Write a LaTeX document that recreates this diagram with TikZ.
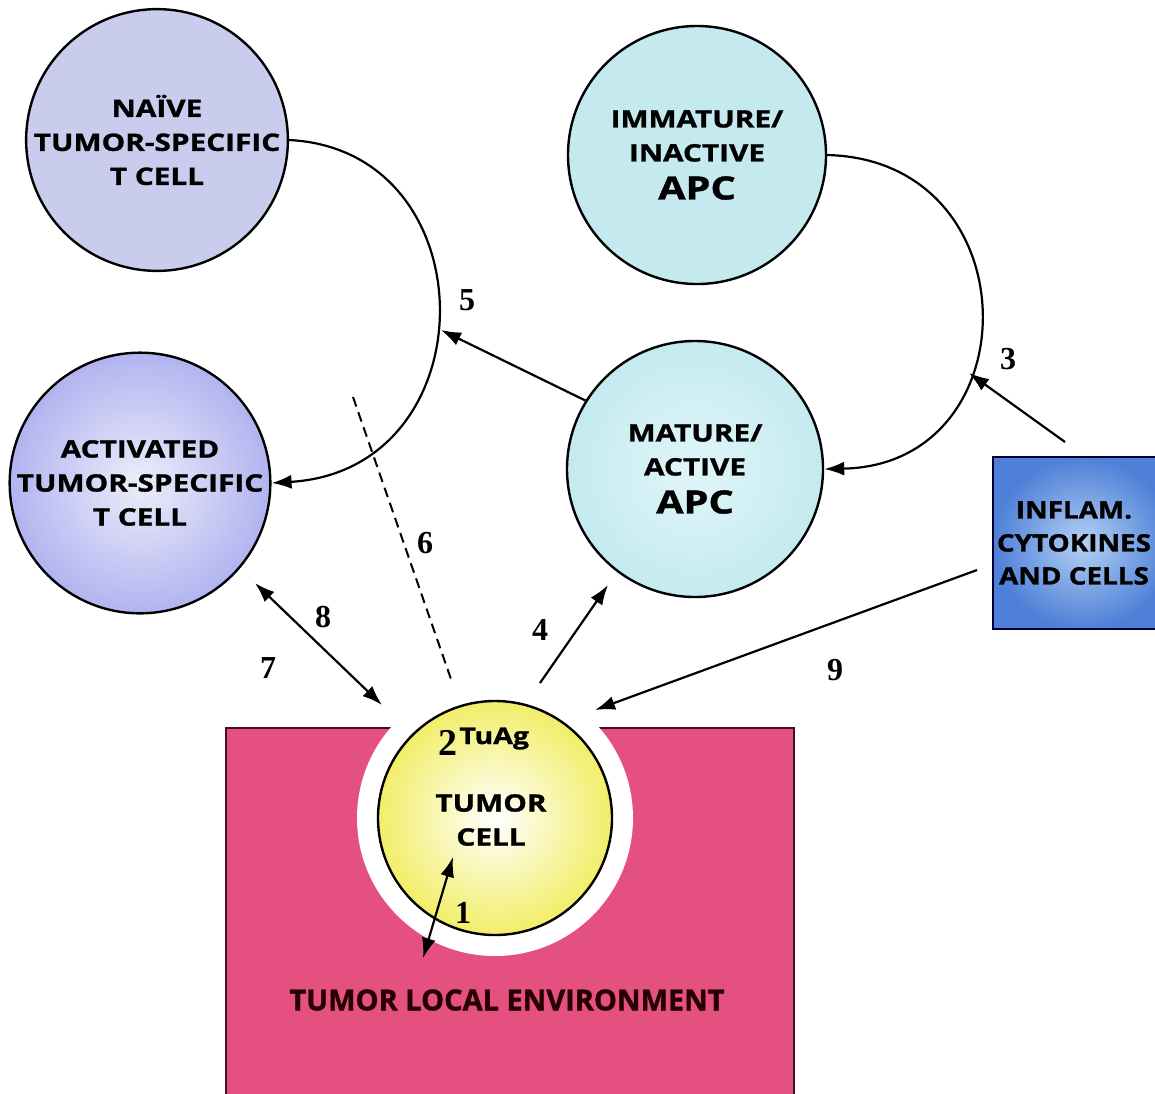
\documentclass[tikz,border=0pt]{standalone}
\usepackage{fontspec}
\newfontfamily\sansf[FakeStretch=1.24,FakeBold=1.2]{Open Sans}
\newfontfamily\sansi[FakeStretch=1.16,FakeBold=1.2]{Open Sans}
\newfontfamily\sansn[FakeBold=1.2]{Open Sans}
\newfontfamily\numf{Liberation Serif}
\usetikzlibrary{arrows.meta,calc}
\definecolor{lav}{RGB}{202,204,238}
\definecolor{lavin}{RGB}{236,237,250}
\definecolor{apc}{RGB}{196,234,240}
\definecolor{apcin}{RGB}{224,246,249}
\definecolor{pinkenv}{RGB}{228,80,128}
\definecolor{pinkedge}{RGB}{70,15,30}
\definecolor{yel}{RGB}{242,238,105}
\definecolor{infblue}{RGB}{78,128,215}
\definecolor{infin}{RGB}{180,208,245}
\tikzset{
  cell/.style={circle,draw=black,line width=1.2pt,inner sep=0pt,align=center,
     font=\sansf\bfseries\fontsize{12}{17}\selectfont},
  tip/.tip={Latex[length=10pt,width=7pt]},
  conn/.style={line width=1.1pt,-tip},
  dconn/.style={line width=1.1pt,tip-tip},
  num/.style={font=\numf\bfseries\fontsize{16}{16}\selectfont,inner sep=0pt}
}
\begin{document}
\begin{tikzpicture}[x=0.5pt,y=-0.5pt]
\useasboundingbox (0,0) rectangle (1155,1093);
\clip (0,0) rectangle (1155,1093);
\fill[white] (0,0) rectangle (1155,1093);
% tumor local environment
\node[draw=pinkedge,fill=pinkenv,line width=1.1pt,minimum width=284pt,minimum height=200pt,inner sep=0pt,anchor=north west] (env) at (225,727) {};
\node[circle,fill=white,minimum size=138pt,inner sep=0pt] (halo) at (495,818) {};
\node[cell,inner color=white,outer color=yel,minimum size=117pt] (tumor) at (495,818) {};
\node[font=\sansf\bfseries\fontsize{12}{17}\selectfont,align=center,inner sep=0pt] (tumtxt) at (491,820) {TUMOR\\CELL};
\node[font=\numf\bfseries\fontsize{19}{19}\selectfont,anchor=base,inner sep=0pt] (two) at (448,755) {2};
\node[font=\sansf\bfseries\fontsize{11.5}{12}\selectfont,anchor=base west,inner sep=0pt] (tuag) at (459,744) {TuAg};
\node[font=\sansn\bfseries\fontsize{14.5}{16}\selectfont,text=black!85!red,inner sep=0pt] (envtxt) at (507,1000) {TUMOR LOCAL ENVIRONMENT};
% cells
\node[cell,fill=lav,minimum size=128pt] (naive) at (157,140) {NAÏVE\\TUMOR-SPECIFIC\\T CELL};
\node[cell,inner color=lavin,outer color=lav!88!blue,minimum size=127pt] (act) at (140,483) {ACTIVATED\\TUMOR-SPECIFIC\\T CELL};
\node[cell,fill=apc,minimum size=129pt] (imm) at (697,155) {IMMATURE/\\INACTIVE\\[2pt]{\fontsize{16}{17}\selectfont APC}};
\node[cell,inner color=apcin,outer color=apc,minimum size=128pt] (mat) at (695,469) {MATURE/\\ACTIVE\\[2pt]{\fontsize{16}{17}\selectfont APC}};
% inflammatory box
\node[draw=black!80!blue,line width=1.2pt,inner color=infin,outer color=infblue,minimum width=90pt,minimum height=86pt,anchor=north west,inner sep=0pt] (inf) at (992,456) {};
\node[font=\sansi\bfseries\fontsize{12}{16.5}\selectfont,align=center,inner sep=0pt] (inftxt) at (1074,543) {INFLAM.\\CYTOKINES\\AND CELLS};
% coordinates
\coordinate (c5) at (441,330);
\coordinate (c3) at (969,373);
\coordinate (s3) at (1065,442);
\coordinate (s9) at (977,570);
\coordinate (e9) at (595,710);
\coordinate (s4) at (540,683);
\coordinate (e4) at (608,585);
\coordinate (a8) at (255,583);
\coordinate (b8) at (382,705);
\coordinate (a1) at (453,857);
\coordinate (b1) at (423,958);
\coordinate (d6a) at (353,397);
\coordinate (d6b) at (452,682);
% connectors
\draw[conn] (naive.east) .. controls (490,150) and (490,470) .. (act.east);
\draw[conn] (imm.east) .. controls (1032,160) and (1032,465) .. (mat.east);
\draw[conn] (mat.148) -- (c5);
\draw[conn] (s3) -- (c3);
\draw[conn] (s9) -- (e9);
\draw[conn] (s4) -- (e4);
\draw[dconn] (a8) -- (b8);
\draw[dconn] (a1) -- (b1);
\draw[line width=1pt,dash pattern=on 5pt off 3pt] (d6a) -- (d6b);
% labels
\node[num] (n5) at (467,300) {5};
\node[num] (n3) at (1008,359) {3};
\node[num] (n6) at (425,543) {6};
\node[num] (n8) at (323,617) {8};
\node[num] (n7) at (268,668) {7};
\node[num] (n4) at (540,630) {4};
\node[num] (n9) at (835,670) {9};
\node[num] (n1) at (463,913) {1};
\end{tikzpicture}
\end{document}
